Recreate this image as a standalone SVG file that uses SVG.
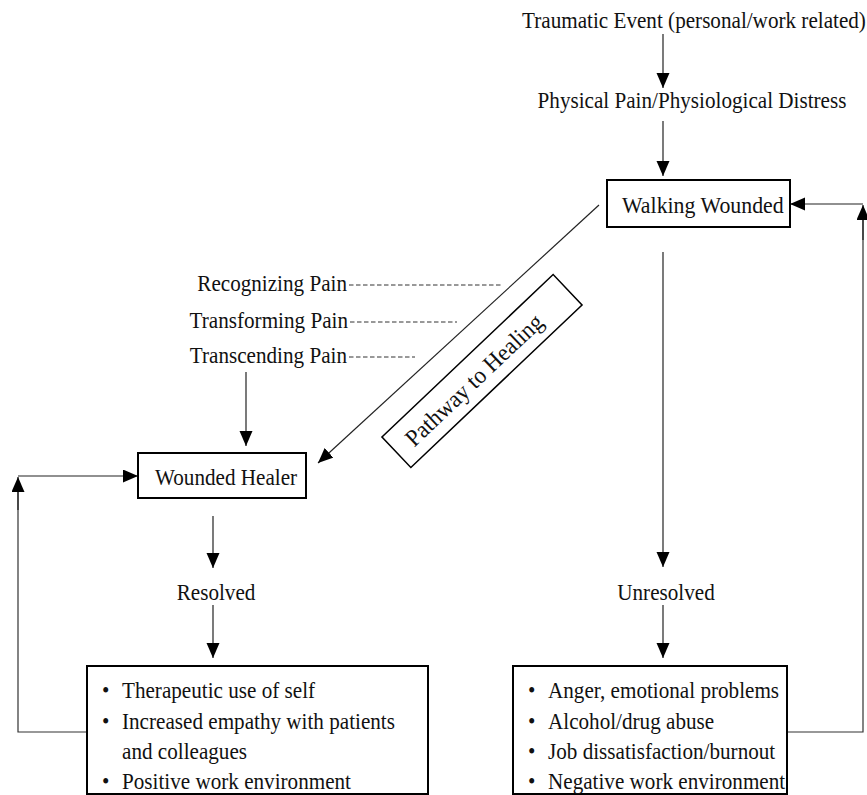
<svg xmlns="http://www.w3.org/2000/svg" width="867" height="795" viewBox="0 0 867 795">
<defs>
<marker id="ah" markerUnits="userSpaceOnUse" markerWidth="16" markerHeight="14" refX="15" refY="6.5" orient="auto">
<path d="M0,0 L15,6.5 L0,13 z" fill="#000"/>
</marker>
<style>
text{font-family:"Liberation Serif","Times New Roman",serif;font-size:23px;fill:#111}
.box{fill:#fff;stroke:#000;stroke-width:2}
.ln{fill:none;stroke:#333;stroke-width:1.2}
.arr{fill:none;stroke:#222;stroke-width:1.2;marker-end:url(#ah)}
.dash{fill:none;stroke:#333;stroke-width:1;stroke-dasharray:4.5,2.5}
.mid{text-anchor:middle}
.end{text-anchor:end}
</style>
</defs>
<rect width="867" height="795" fill="#fff"/>

<g id="connectors">
<line class="arr" x1="663" y1="34" x2="663" y2="88"/>
<line class="arr" x1="663" y1="121" x2="663" y2="176"/>
<line class="arr" x1="599" y1="205" x2="318" y2="463"/>
<line class="arr" x1="663" y1="252" x2="663" y2="567"/>
<line class="arr" x1="663" y1="605" x2="663" y2="658"/>
<polyline class="ln" points="787,732 863,732 863,218"/>
<line class="arr" x1="863" y1="240" x2="863" y2="205"/>
<line class="arr" x1="863" y1="204" x2="790" y2="204"/>
<line class="arr" x1="246" y1="372" x2="246" y2="446"/>
<line class="arr" x1="213" y1="516" x2="213" y2="568"/>
<line class="arr" x1="213" y1="605" x2="213" y2="658"/>
<polyline class="ln" points="87,732 18,732 18,490"/>
<line class="arr" x1="18" y1="510" x2="18" y2="477"/>
<line class="arr" x1="18" y1="476" x2="138" y2="476"/>
<line class="dash" x1="349" y1="285" x2="502" y2="285"/>
<line class="dash" x1="350" y1="322" x2="457" y2="322"/>
<line class="dash" x1="349" y1="357" x2="415" y2="357"/>
</g>

<g id="traumatic-event">
<text class="mid" transform="translate(694,28) scale(0.92,1)">Traumatic Event (personal/work related)</text>
</g>
<g id="physical-pain">
<text class="mid" transform="translate(692,108) scale(0.92,1)">Physical Pain/Physiological Distress</text>
</g>
<g id="walking-wounded">
<rect class="box" x="607" y="180" width="183" height="47"/>
<text transform="translate(622,213) scale(0.95,1)">Walking Wounded</text>
</g>
<g id="recognizing-pain">
<text class="end" transform="translate(347,291) scale(0.92,1)">Recognizing Pain</text>
</g>
<g id="transforming-pain">
<text class="end" transform="translate(348,328) scale(0.92,1)">Transforming Pain</text>
</g>
<g id="transcending-pain">
<text class="end" transform="translate(347,363) scale(0.92,1)">Transcending Pain</text>
</g>
<g id="pathway-to-healing" transform="translate(482,371) rotate(-43.5)">
<rect x="-118" y="-21" width="236" height="42" fill="#fff" stroke="#000" stroke-width="1.5"/>
<text class="mid" transform="translate(-12,9) scale(0.95,1)" style="font-size:24px">Pathway to Healing</text>
</g>
<g id="wounded-healer">
<rect class="box" x="138" y="453" width="168" height="45"/>
<text transform="translate(155,485) scale(0.92,1)">Wounded Healer</text>
</g>
<g id="resolved">
<text class="mid" transform="translate(216,600) scale(0.92,1)">Resolved</text>
</g>
<g id="unresolved">
<text class="mid" transform="translate(666,600) scale(0.92,1)">Unresolved</text>
</g>
<g id="resolved-outcomes">
<rect class="box" x="87" y="666" width="341" height="128"/>
<text transform="translate(102,698) scale(0.92,1)">•</text><text transform="translate(122,698) scale(0.92,1)">Therapeutic use of self</text>
<text transform="translate(102,729) scale(0.92,1)">•</text><text transform="translate(122,729) scale(0.92,1)">Increased  empathy  with patients</text>
<text transform="translate(122,759) scale(0.92,1)">and colleagues</text>
<text transform="translate(102,789) scale(0.92,1)">•</text><text transform="translate(122,789) scale(0.92,1)">Positive work environment</text>
</g>
<g id="unresolved-outcomes">
<rect class="box" x="513" y="666" width="274" height="128"/>
<text transform="translate(528,698) scale(0.92,1)">•</text><text transform="translate(548,698) scale(0.92,1)">Anger,  emotional problems</text>
<text transform="translate(528,729) scale(0.92,1)">•</text><text transform="translate(548,729) scale(0.92,1)">Alcohol/drug abuse</text>
<text transform="translate(528,759) scale(0.92,1)">•</text><text transform="translate(548,759) scale(0.92,1)">Job dissatisfaction/burnout</text>
<text transform="translate(528,789) scale(0.92,1)">•</text><text transform="translate(548,789) scale(0.92,1)">Negative  work environment</text>
</g>
</svg>
